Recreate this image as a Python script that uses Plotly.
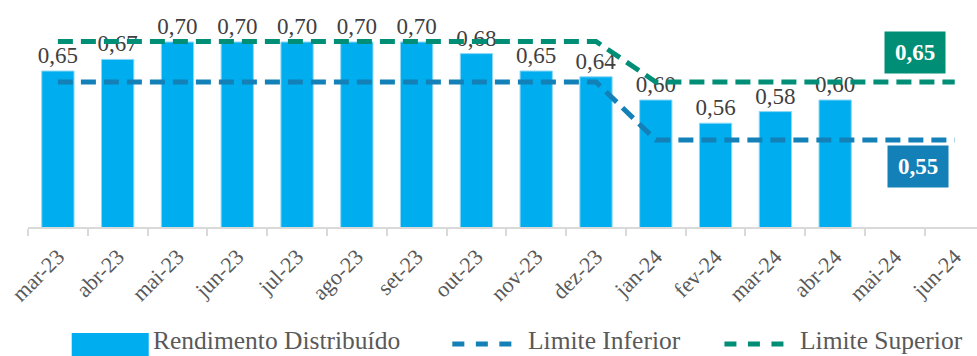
import plotly.graph_objects as go

# ---------------- data ----------------
categories = ["mar-23", "abr-23", "mai-23", "jun-23", "jul-23", "ago-23", "set-23", "out-23",
              "nov-23", "dez-23", "jan-24", "fev-24", "mar-24", "abr-24", "mai-24", "jun-24"]
rendimento = [0.65, 0.67, 0.70, 0.70, 0.70, 0.70, 0.70, 0.68, 0.65, 0.64, 0.60, 0.56, 0.58, 0.60,
              None, None]
limite_inferior = [0.65, 0.65, 0.65, 0.65, 0.65, 0.65, 0.65, 0.65, 0.65, 0.65,
                   0.55, 0.55, 0.55, 0.55, 0.55, 0.55]
limite_superior = [0.72, 0.72, 0.72, 0.72, 0.72, 0.72, 0.72, 0.72, 0.72, 0.72,
                   0.65, 0.65, 0.65, 0.65, 0.65, 0.65]
series_names = ["Rendimento Distribuído", "Limite Inferior", "Limite Superior"]

# ---------------- styles ----------------
W, H = 977, 356
BAR_COLOR = "#00AEEF"
BLUE = "#1380B8"
GREEN = "#008F76"
SERIF = "Liberation Serif"
PLOT_TOP, PLOT_BOTTOM = 0, 227     # pixel rows of the plot area
PLOT_LEFT = 28.3
CAT_W = 59.77

fig = go.Figure()
fig.add_trace(go.Bar(
    x=categories, y=rendimento, name=series_names[0],
    marker=dict(color=BAR_COLOR, line=dict(color="#8CD8F6", width=1)),
    width=0.54,
    texttemplate="%{y:.2f}", textposition="outside", constraintext="none",
    textfont=dict(family=SERIF, size=23, color="#404040"),
    cliponaxis=False, showlegend=False,
))
fig.add_trace(go.Scatter(
    x=categories, y=limite_inferior, name=series_names[1], yaxis="y2", mode="lines",
    line=dict(color=BLUE, width=5, dash="15px,8px"),
    showlegend=False,
))
fig.add_trace(go.Scatter(
    x=categories, y=limite_superior, name=series_names[2], yaxis="y2", mode="lines",
    line=dict(color=GREEN, width=5, dash="15px,8px"),
    showlegend=False,
))

# y ranges so that 0.70 (bars) sits at pixel 42 and 0.65 (limits) at pixel 82
scale = 580.0
y1_top = 0.70 + (42 - PLOT_TOP) / scale
y1_bot = 0.70 - (PLOT_BOTTOM - 42) / scale
y2_top = 0.65 + (82 - PLOT_TOP) / scale
y2_bot = 0.65 - (PLOT_BOTTOM - 82) / scale
x_hi = -0.5 + (W - PLOT_LEFT) / CAT_W

def px_x(p):
    return (p - PLOT_LEFT) / (W - PLOT_LEFT)

def px_y(p):
    return (PLOT_BOTTOM - p) / (PLOT_BOTTOM - PLOT_TOP)

shapes = []
annotations = []

# value boxes for the final limits
annotations.append(dict(
    xref="paper", yref="paper", x=px_x(915.5), y=px_y(52.5), xanchor="center", yanchor="middle",
    text="<b>" + f"{limite_superior[-1]:.2f}".replace(".", ",") + "</b>",
    showarrow=False, font=dict(family=SERIF, size=23, color="white"),
    bgcolor=GREEN, width=47, height=28, borderpad=6.5,
))
annotations.append(dict(
    xref="paper", yref="paper", x=px_x(918.5), y=px_y(166.5), xanchor="center", yanchor="middle",
    text="<b>" + f"{limite_inferior[-1]:.2f}".replace(".", ",") + "</b>",
    showarrow=False, font=dict(family=SERIF, size=23, color="white"),
    bgcolor=BLUE, width=47, height=28, borderpad=6.5,
))

# custom legend
LEG_Y = 344
shapes.append(dict(type="rect", xref="paper", yref="paper",
                   x0=px_x(72), x1=px_x(149), y0=px_y(333), y1=px_y(358),
                   fillcolor=BAR_COLOR, line=dict(width=0)))
for x0, color in [(450, BLUE), (722, GREEN)]:
    for k in range(3):
        shapes.append(dict(type="line", xref="paper", yref="paper",
                           x0=px_x(x0 + 2.5 + k * 23.5), x1=px_x(x0 + 14.5 + k * 23.5),
                           y0=px_y(LEG_Y), y1=px_y(LEG_Y),
                           line=dict(color=color, width=5)))
for xt, name in [(152, series_names[0]), (527, series_names[1]), (799, series_names[2])]:
    annotations.append(dict(
        xref="paper", yref="paper", x=px_x(xt), y=px_y(340), xanchor="left", yanchor="middle",
        text=name, showarrow=False, borderpad=0,
        font=dict(family=SERIF, size=25.5, color="#595959"),
    ))

fig.update_layout(
    width=W, height=H,
    margin=dict(l=PLOT_LEFT, r=0, t=PLOT_TOP, b=H - PLOT_BOTTOM, pad=0),
    paper_bgcolor="white", plot_bgcolor="white",
    separators=",.",
    showlegend=False,
    xaxis=dict(
        type="category", range=[-0.5, x_hi],
        showline=True, linecolor="#D9D9D9", linewidth=2,
        ticks="outside", tickson="boundaries", ticklen=7, tickcolor="#D9D9D9", tickwidth=2,
        tickangle=-45, tickfont=dict(family=SERIF, size=22, color="#595959"),
        ticklabelstandoff=6,
        showgrid=False, zeroline=False, fixedrange=True,
    ),
    yaxis=dict(range=[y1_bot, y1_top], visible=False, showgrid=False, zeroline=False),
    yaxis2=dict(range=[y2_bot, y2_top], overlaying="y", visible=False, showgrid=False,
                zeroline=False),
    shapes=shapes,
    annotations=annotations,
)

fig.write_html("out.html")
